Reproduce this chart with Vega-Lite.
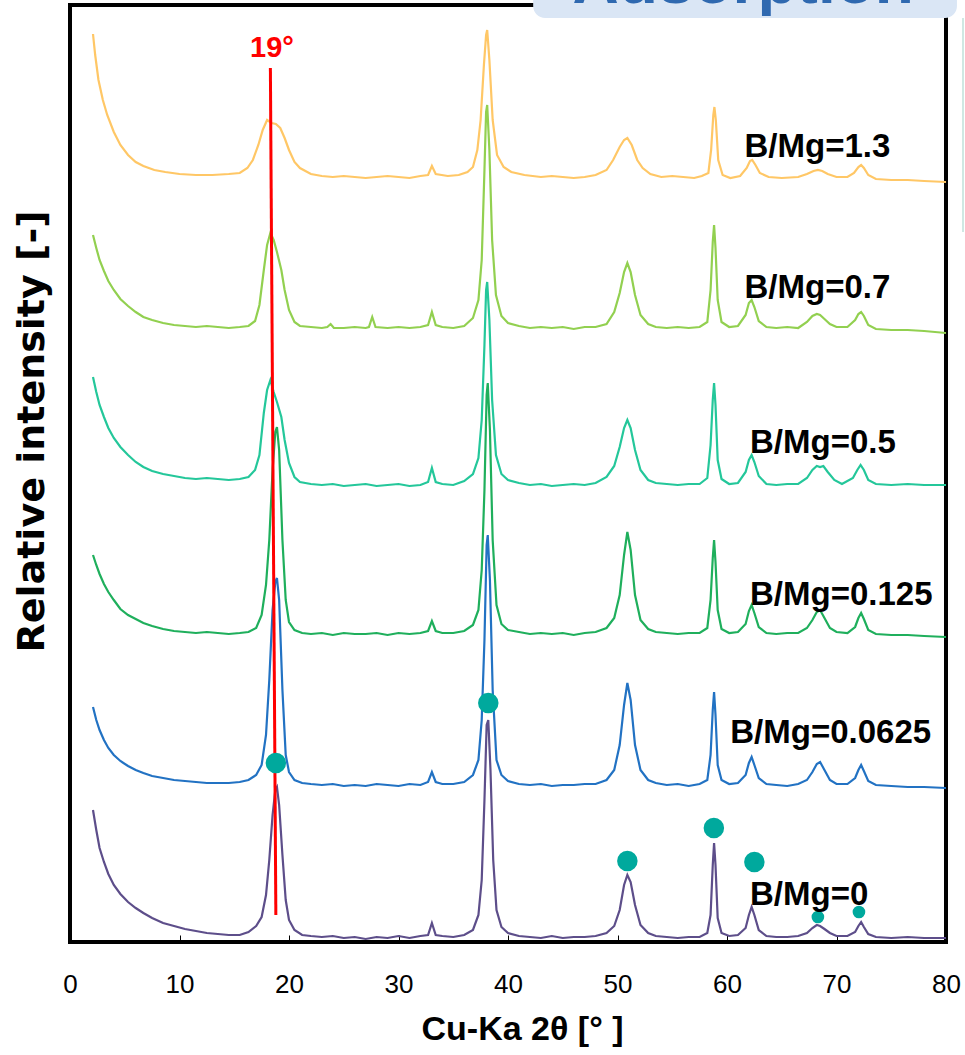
{
"$schema":"https://vega.github.io/schema/vega-lite/v6.json",
"width":876,"height":937,
"autosize":{"type":"none"},
"padding":{"left":70,"top":5,"right":19,"bottom":113},
"background":"white",
"config":{"view":{"stroke":"black","strokeWidth":4},"font":"Liberation Sans"},
"datasets":{
"xrd":[
{"s":"0","t":2.1,"i":132},{"s":"0","t":2.4,"i":112},{"s":"0","t":2.7,"i":94},{"s":"0","t":3.1,"i":80},{"s":"0","t":3.5,"i":68},{"s":"0","t":4.0,"i":57},{"s":"0","t":4.6,"i":48},{"s":"0","t":5.3,"i":40},{"s":"0","t":6.0,"i":34},{"s":"0","t":6.7,"i":29},{"s":"0","t":7.5,"i":24},{"s":"0","t":8.5,"i":19},{"s":"0","t":9.5,"i":16},{"s":"0","t":10.5,"i":13},{"s":"0","t":11.5,"i":11},{"s":"0","t":12.5,"i":9},{"s":"0","t":13.5,"i":8},{"s":"0","t":14.5,"i":7},{"s":"0","t":15.5,"i":7},{"s":"0","t":16.3,"i":10},{"s":"0","t":17.0,"i":16},{"s":"0","t":17.5,"i":25},{"s":"0","t":17.9,"i":47},{"s":"0","t":18.2,"i":82},{"s":"0","t":18.5,"i":127},{"s":"0","t":18.75,"i":152},{"s":"0","t":18.9,"i":155},{"s":"0","t":19.1,"i":137},{"s":"0","t":19.4,"i":87},{"s":"0","t":19.7,"i":42},{"s":"0","t":20.0,"i":22},{"s":"0","t":20.5,"i":12},{"s":"0","t":21.2,"i":7},{"s":"0","t":22,"i":6},{"s":"0","t":23,"i":5},{"s":"0","t":24,"i":6},{"s":"0","t":25,"i":4},{"s":"0","t":26,"i":5},{"s":"0","t":27,"i":3},{"s":"0","t":28,"i":5},{"s":"0","t":29,"i":4},{"s":"0","t":30,"i":6},{"s":"0","t":31,"i":4},{"s":"0","t":32,"i":6},{"s":"0","t":32.7,"i":7},{"s":"0","t":33.05,"i":19},{"s":"0","t":33.4,"i":7},{"s":"0","t":34,"i":6},{"s":"0","t":35,"i":5},{"s":"0","t":36,"i":7},{"s":"0","t":36.8,"i":12},{"s":"0","t":37.3,"i":27},{"s":"0","t":37.6,"i":62},{"s":"0","t":37.85,"i":142},{"s":"0","t":38.05,"i":217},{"s":"0","t":38.2,"i":222},{"s":"0","t":38.4,"i":172},{"s":"0","t":38.65,"i":82},{"s":"0","t":38.95,"i":32},{"s":"0","t":39.4,"i":15},{"s":"0","t":40,"i":9},{"s":"0","t":41,"i":6},{"s":"0","t":42,"i":5},{"s":"0","t":43,"i":4},{"s":"0","t":44,"i":6},{"s":"0","t":45,"i":4},{"s":"0","t":46,"i":5},{"s":"0","t":47,"i":5},{"s":"0","t":48,"i":6},{"s":"0","t":49,"i":9},{"s":"0","t":49.7,"i":16},{"s":"0","t":50.2,"i":32},{"s":"0","t":50.6,"i":57},{"s":"0","t":50.9,"i":67},{"s":"0","t":51.2,"i":60},{"s":"0","t":51.6,"i":37},{"s":"0","t":52.1,"i":17},{"s":"0","t":52.8,"i":9},{"s":"0","t":53.5,"i":6},{"s":"0","t":54.5,"i":5},{"s":"0","t":55.5,"i":4},{"s":"0","t":56.5,"i":5},{"s":"0","t":57.5,"i":5},{"s":"0","t":58.2,"i":9},{"s":"0","t":58.5,"i":27},{"s":"0","t":58.7,"i":77},{"s":"0","t":58.82,"i":99},{"s":"0","t":58.95,"i":77},{"s":"0","t":59.15,"i":24},{"s":"0","t":59.5,"i":9},{"s":"0","t":60.2,"i":6},{"s":"0","t":61.0,"i":7},{"s":"0","t":61.7,"i":14},{"s":"0","t":62.0,"i":27},{"s":"0","t":62.25,"i":35},{"s":"0","t":62.5,"i":27},{"s":"0","t":62.9,"i":12},{"s":"0","t":63.6,"i":6},{"s":"0","t":64.5,"i":5},{"s":"0","t":65.5,"i":5},{"s":"0","t":66.5,"i":6},{"s":"0","t":67.3,"i":9},{"s":"0","t":67.8,"i":14},{"s":"0","t":68.2,"i":17},{"s":"0","t":68.5,"i":16},{"s":"0","t":68.9,"i":13},{"s":"0","t":69.4,"i":9},{"s":"0","t":70.0,"i":6},{"s":"0","t":71.0,"i":6},{"s":"0","t":71.7,"i":10},{"s":"0","t":72.0,"i":16},{"s":"0","t":72.25,"i":20},{"s":"0","t":72.5,"i":15},{"s":"0","t":72.9,"i":8},{"s":"0","t":73.6,"i":5},{"s":"0","t":75,"i":4},{"s":"0","t":76.5,"i":5},{"s":"0","t":78,"i":4},{"s":"0","t":80,"i":4},
{"s":"0.0625","t":2.1,"i":235},{"s":"0.0625","t":2.4,"i":222},{"s":"0.0625","t":2.7,"i":212},{"s":"0.0625","t":3.1,"i":202},{"s":"0.0625","t":3.5,"i":194},{"s":"0.0625","t":4.0,"i":187},{"s":"0.0625","t":4.6,"i":181},{"s":"0.0625","t":5.3,"i":176},{"s":"0.0625","t":6.0,"i":172},{"s":"0.0625","t":6.7,"i":169},{"s":"0.0625","t":7.5,"i":166},{"s":"0.0625","t":8.5,"i":164},{"s":"0.0625","t":9.5,"i":162},{"s":"0.0625","t":10.5,"i":161},{"s":"0.0625","t":11.5,"i":160},{"s":"0.0625","t":12.5,"i":159},{"s":"0.0625","t":13.5,"i":159},{"s":"0.0625","t":14.5,"i":159},{"s":"0.0625","t":15.5,"i":160},{"s":"0.0625","t":16.3,"i":162},{"s":"0.0625","t":17.0,"i":167},{"s":"0.0625","t":17.5,"i":177},{"s":"0.0625","t":17.9,"i":207},{"s":"0.0625","t":18.2,"i":262},{"s":"0.0625","t":18.5,"i":332},{"s":"0.0625","t":18.75,"i":360},{"s":"0.0625","t":18.9,"i":364},{"s":"0.0625","t":19.1,"i":342},{"s":"0.0625","t":19.4,"i":252},{"s":"0.0625","t":19.7,"i":187},{"s":"0.0625","t":20.0,"i":170},{"s":"0.0625","t":20.5,"i":162},{"s":"0.0625","t":21.2,"i":159},{"s":"0.0625","t":22,"i":158},{"s":"0.0625","t":23,"i":157},{"s":"0.0625","t":24,"i":158},{"s":"0.0625","t":25,"i":156},{"s":"0.0625","t":26,"i":157},{"s":"0.0625","t":27,"i":156},{"s":"0.0625","t":28,"i":158},{"s":"0.0625","t":29,"i":157},{"s":"0.0625","t":30,"i":156},{"s":"0.0625","t":31,"i":158},{"s":"0.0625","t":32,"i":157},{"s":"0.0625","t":32.7,"i":160},{"s":"0.0625","t":33.05,"i":170},{"s":"0.0625","t":33.4,"i":160},{"s":"0.0625","t":34,"i":158},{"s":"0.0625","t":35,"i":158},{"s":"0.0625","t":36,"i":160},{"s":"0.0625","t":36.8,"i":167},{"s":"0.0625","t":37.3,"i":182},{"s":"0.0625","t":37.6,"i":222},{"s":"0.0625","t":37.85,"i":302},{"s":"0.0625","t":38.05,"i":397},{"s":"0.0625","t":38.15,"i":407},{"s":"0.0625","t":38.35,"i":362},{"s":"0.0625","t":38.6,"i":252},{"s":"0.0625","t":38.95,"i":182},{"s":"0.0625","t":39.4,"i":167},{"s":"0.0625","t":40,"i":161},{"s":"0.0625","t":41,"i":158},{"s":"0.0625","t":42,"i":157},{"s":"0.0625","t":43,"i":158},{"s":"0.0625","t":44,"i":156},{"s":"0.0625","t":45,"i":157},{"s":"0.0625","t":46,"i":157},{"s":"0.0625","t":47,"i":158},{"s":"0.0625","t":48,"i":158},{"s":"0.0625","t":49,"i":162},{"s":"0.0625","t":49.7,"i":172},{"s":"0.0625","t":50.2,"i":197},{"s":"0.0625","t":50.6,"i":237},{"s":"0.0625","t":50.9,"i":259},{"s":"0.0625","t":51.2,"i":242},{"s":"0.0625","t":51.6,"i":197},{"s":"0.0625","t":52.1,"i":172},{"s":"0.0625","t":52.8,"i":162},{"s":"0.0625","t":53.5,"i":159},{"s":"0.0625","t":54.5,"i":157},{"s":"0.0625","t":55.5,"i":158},{"s":"0.0625","t":56.5,"i":156},{"s":"0.0625","t":57.5,"i":158},{"s":"0.0625","t":58.2,"i":162},{"s":"0.0625","t":58.5,"i":187},{"s":"0.0625","t":58.7,"i":232},{"s":"0.0625","t":58.82,"i":250},{"s":"0.0625","t":58.95,"i":227},{"s":"0.0625","t":59.15,"i":177},{"s":"0.0625","t":59.5,"i":162},{"s":"0.0625","t":60.2,"i":158},{"s":"0.0625","t":61.0,"i":159},{"s":"0.0625","t":61.7,"i":167},{"s":"0.0625","t":62.0,"i":179},{"s":"0.0625","t":62.25,"i":185},{"s":"0.0625","t":62.5,"i":177},{"s":"0.0625","t":62.9,"i":164},{"s":"0.0625","t":63.6,"i":158},{"s":"0.0625","t":64.5,"i":157},{"s":"0.0625","t":65.5,"i":156},{"s":"0.0625","t":66.5,"i":158},{"s":"0.0625","t":67.3,"i":162},{"s":"0.0625","t":67.8,"i":170},{"s":"0.0625","t":68.2,"i":178},{"s":"0.0625","t":68.5,"i":180},{"s":"0.0625","t":68.9,"i":172},{"s":"0.0625","t":69.4,"i":162},{"s":"0.0625","t":70.0,"i":158},{"s":"0.0625","t":71.0,"i":158},{"s":"0.0625","t":71.7,"i":164},{"s":"0.0625","t":72.0,"i":172},{"s":"0.0625","t":72.25,"i":177},{"s":"0.0625","t":72.5,"i":171},{"s":"0.0625","t":72.9,"i":161},{"s":"0.0625","t":73.6,"i":157},{"s":"0.0625","t":75,"i":156},{"s":"0.0625","t":76.5,"i":155},{"s":"0.0625","t":78,"i":155},{"s":"0.0625","t":80,"i":154},
{"s":"0.125","t":2.1,"i":387},{"s":"0.125","t":2.4,"i":377},{"s":"0.125","t":2.7,"i":368},{"s":"0.125","t":3.1,"i":358},{"s":"0.125","t":3.5,"i":350},{"s":"0.125","t":4.0,"i":342},{"s":"0.125","t":4.6,"i":333},{"s":"0.125","t":5.3,"i":327},{"s":"0.125","t":6.0,"i":323},{"s":"0.125","t":6.7,"i":319},{"s":"0.125","t":7.5,"i":316},{"s":"0.125","t":8.5,"i":313},{"s":"0.125","t":9.5,"i":311},{"s":"0.125","t":10.5,"i":310},{"s":"0.125","t":11.5,"i":309},{"s":"0.125","t":12.5,"i":310},{"s":"0.125","t":13.5,"i":309},{"s":"0.125","t":14.5,"i":308},{"s":"0.125","t":15.5,"i":309},{"s":"0.125","t":16.3,"i":310},{"s":"0.125","t":17.0,"i":314},{"s":"0.125","t":17.5,"i":327},{"s":"0.125","t":17.9,"i":357},{"s":"0.125","t":18.2,"i":402},{"s":"0.125","t":18.5,"i":472},{"s":"0.125","t":18.75,"i":510},{"s":"0.125","t":18.9,"i":515},{"s":"0.125","t":19.1,"i":492},{"s":"0.125","t":19.4,"i":402},{"s":"0.125","t":19.7,"i":342},{"s":"0.125","t":20.0,"i":320},{"s":"0.125","t":20.5,"i":312},{"s":"0.125","t":21.2,"i":309},{"s":"0.125","t":22,"i":308},{"s":"0.125","t":23,"i":309},{"s":"0.125","t":24,"i":307},{"s":"0.125","t":25,"i":309},{"s":"0.125","t":26,"i":308},{"s":"0.125","t":27,"i":308},{"s":"0.125","t":28,"i":309},{"s":"0.125","t":29,"i":307},{"s":"0.125","t":30,"i":309},{"s":"0.125","t":31,"i":308},{"s":"0.125","t":32,"i":309},{"s":"0.125","t":32.7,"i":311},{"s":"0.125","t":33.05,"i":321},{"s":"0.125","t":33.4,"i":311},{"s":"0.125","t":34,"i":309},{"s":"0.125","t":35,"i":309},{"s":"0.125","t":36,"i":311},{"s":"0.125","t":36.8,"i":317},{"s":"0.125","t":37.3,"i":332},{"s":"0.125","t":37.6,"i":372},{"s":"0.125","t":37.85,"i":452},{"s":"0.125","t":38.05,"i":547},{"s":"0.125","t":38.15,"i":559},{"s":"0.125","t":38.35,"i":512},{"s":"0.125","t":38.6,"i":402},{"s":"0.125","t":38.95,"i":337},{"s":"0.125","t":39.4,"i":318},{"s":"0.125","t":40,"i":312},{"s":"0.125","t":41,"i":310},{"s":"0.125","t":42,"i":308},{"s":"0.125","t":43,"i":309},{"s":"0.125","t":44,"i":308},{"s":"0.125","t":45,"i":309},{"s":"0.125","t":46,"i":307},{"s":"0.125","t":47,"i":309},{"s":"0.125","t":48,"i":310},{"s":"0.125","t":49,"i":314},{"s":"0.125","t":49.7,"i":324},{"s":"0.125","t":50.2,"i":347},{"s":"0.125","t":50.6,"i":387},{"s":"0.125","t":50.9,"i":410},{"s":"0.125","t":51.2,"i":392},{"s":"0.125","t":51.6,"i":347},{"s":"0.125","t":52.1,"i":322},{"s":"0.125","t":52.8,"i":313},{"s":"0.125","t":53.5,"i":310},{"s":"0.125","t":54.5,"i":309},{"s":"0.125","t":55.5,"i":308},{"s":"0.125","t":56.5,"i":309},{"s":"0.125","t":57.5,"i":309},{"s":"0.125","t":58.2,"i":314},{"s":"0.125","t":58.5,"i":342},{"s":"0.125","t":58.7,"i":384},{"s":"0.125","t":58.82,"i":402},{"s":"0.125","t":58.95,"i":380},{"s":"0.125","t":59.15,"i":332},{"s":"0.125","t":59.5,"i":313},{"s":"0.125","t":60.2,"i":309},{"s":"0.125","t":61.0,"i":310},{"s":"0.125","t":61.7,"i":318},{"s":"0.125","t":62.0,"i":331},{"s":"0.125","t":62.25,"i":337},{"s":"0.125","t":62.5,"i":329},{"s":"0.125","t":62.9,"i":315},{"s":"0.125","t":63.6,"i":309},{"s":"0.125","t":64.5,"i":308},{"s":"0.125","t":65.5,"i":309},{"s":"0.125","t":66.5,"i":309},{"s":"0.125","t":67.3,"i":314},{"s":"0.125","t":67.8,"i":322},{"s":"0.125","t":68.2,"i":330},{"s":"0.125","t":68.5,"i":332},{"s":"0.125","t":68.9,"i":324},{"s":"0.125","t":69.4,"i":314},{"s":"0.125","t":70.0,"i":310},{"s":"0.125","t":71.0,"i":309},{"s":"0.125","t":71.7,"i":315},{"s":"0.125","t":72.0,"i":324},{"s":"0.125","t":72.25,"i":329},{"s":"0.125","t":72.5,"i":323},{"s":"0.125","t":72.9,"i":312},{"s":"0.125","t":73.6,"i":308},{"s":"0.125","t":75,"i":307},{"s":"0.125","t":76.5,"i":307},{"s":"0.125","t":78,"i":306},{"s":"0.125","t":80,"i":305},
{"s":"0.5","t":2.1,"i":565},{"s":"0.5","t":2.4,"i":550},{"s":"0.5","t":2.7,"i":537},{"s":"0.5","t":3.1,"i":525},{"s":"0.5","t":3.5,"i":514},{"s":"0.5","t":4.0,"i":504},{"s":"0.5","t":4.6,"i":495},{"s":"0.5","t":5.3,"i":487},{"s":"0.5","t":6.0,"i":480},{"s":"0.5","t":6.7,"i":475},{"s":"0.5","t":7.5,"i":471},{"s":"0.5","t":8.5,"i":468},{"s":"0.5","t":9.5,"i":466},{"s":"0.5","t":10.5,"i":464},{"s":"0.5","t":11.5,"i":463},{"s":"0.5","t":12.5,"i":464},{"s":"0.5","t":13.5,"i":463},{"s":"0.5","t":14.5,"i":462},{"s":"0.5","t":15.5,"i":463},{"s":"0.5","t":16.3,"i":465},{"s":"0.5","t":16.9,"i":472},{"s":"0.5","t":17.3,"i":487},{"s":"0.5","t":17.7,"i":529},{"s":"0.5","t":18.0,"i":552},{"s":"0.5","t":18.3,"i":562},{"s":"0.5","t":18.6,"i":550},{"s":"0.5","t":18.9,"i":540},{"s":"0.5","t":19.3,"i":525},{"s":"0.5","t":19.6,"i":502},{"s":"0.5","t":20.0,"i":479},{"s":"0.5","t":20.5,"i":465},{"s":"0.5","t":21.0,"i":460},{"s":"0.5","t":22,"i":458},{"s":"0.5","t":23,"i":457},{"s":"0.5","t":24,"i":458},{"s":"0.5","t":25,"i":456},{"s":"0.5","t":26,"i":457},{"s":"0.5","t":27,"i":458},{"s":"0.5","t":28,"i":456},{"s":"0.5","t":29,"i":457},{"s":"0.5","t":30,"i":458},{"s":"0.5","t":31,"i":456},{"s":"0.5","t":32,"i":457},{"s":"0.5","t":32.7,"i":460},{"s":"0.5","t":33.05,"i":474},{"s":"0.5","t":33.4,"i":460},{"s":"0.5","t":34,"i":458},{"s":"0.5","t":35,"i":457},{"s":"0.5","t":36,"i":461},{"s":"0.5","t":36.8,"i":468},{"s":"0.5","t":37.3,"i":484},{"s":"0.5","t":37.6,"i":522},{"s":"0.5","t":37.85,"i":597},{"s":"0.5","t":38.0,"i":652},{"s":"0.5","t":38.1,"i":660},{"s":"0.5","t":38.3,"i":622},{"s":"0.5","t":38.55,"i":542},{"s":"0.5","t":38.9,"i":487},{"s":"0.5","t":39.4,"i":468},{"s":"0.5","t":40,"i":462},{"s":"0.5","t":41,"i":459},{"s":"0.5","t":42,"i":457},{"s":"0.5","t":43,"i":458},{"s":"0.5","t":44,"i":456},{"s":"0.5","t":45,"i":457},{"s":"0.5","t":46,"i":458},{"s":"0.5","t":47,"i":457},{"s":"0.5","t":48,"i":459},{"s":"0.5","t":49,"i":465},{"s":"0.5","t":49.7,"i":476},{"s":"0.5","t":50.2,"i":495},{"s":"0.5","t":50.6,"i":514},{"s":"0.5","t":50.9,"i":522},{"s":"0.5","t":51.2,"i":514},{"s":"0.5","t":51.6,"i":492},{"s":"0.5","t":52.1,"i":472},{"s":"0.5","t":52.8,"i":462},{"s":"0.5","t":53.5,"i":459},{"s":"0.5","t":54.5,"i":458},{"s":"0.5","t":55.5,"i":457},{"s":"0.5","t":56.5,"i":458},{"s":"0.5","t":57.5,"i":458},{"s":"0.5","t":58.2,"i":464},{"s":"0.5","t":58.5,"i":497},{"s":"0.5","t":58.7,"i":542},{"s":"0.5","t":58.82,"i":559},{"s":"0.5","t":58.95,"i":537},{"s":"0.5","t":59.15,"i":482},{"s":"0.5","t":59.5,"i":463},{"s":"0.5","t":60.2,"i":458},{"s":"0.5","t":61.0,"i":459},{"s":"0.5","t":61.7,"i":470},{"s":"0.5","t":62.0,"i":482},{"s":"0.5","t":62.25,"i":487},{"s":"0.5","t":62.5,"i":480},{"s":"0.5","t":62.9,"i":466},{"s":"0.5","t":63.6,"i":458},{"s":"0.5","t":64.5,"i":457},{"s":"0.5","t":65.5,"i":458},{"s":"0.5","t":66.5,"i":458},{"s":"0.5","t":67.3,"i":464},{"s":"0.5","t":67.8,"i":472},{"s":"0.5","t":68.2,"i":476},{"s":"0.5","t":68.5,"i":475},{"s":"0.5","t":68.8,"i":476},{"s":"0.5","t":69.2,"i":470},{"s":"0.5","t":69.8,"i":462},{"s":"0.5","t":70.5,"i":458},{"s":"0.5","t":71.5,"i":464},{"s":"0.5","t":71.9,"i":472},{"s":"0.5","t":72.2,"i":477},{"s":"0.5","t":72.5,"i":472},{"s":"0.5","t":72.9,"i":462},{"s":"0.5","t":73.6,"i":458},{"s":"0.5","t":75,"i":457},{"s":"0.5","t":76.5,"i":458},{"s":"0.5","t":78,"i":457},{"s":"0.5","t":80,"i":457},
{"s":"0.7","t":2.1,"i":707},{"s":"0.7","t":2.4,"i":694},{"s":"0.7","t":2.7,"i":682},{"s":"0.7","t":3.1,"i":671},{"s":"0.7","t":3.5,"i":661},{"s":"0.7","t":4.0,"i":652},{"s":"0.7","t":4.6,"i":643},{"s":"0.7","t":5.3,"i":636},{"s":"0.7","t":6.0,"i":630},{"s":"0.7","t":6.7,"i":625},{"s":"0.7","t":7.5,"i":622},{"s":"0.7","t":8.5,"i":619},{"s":"0.7","t":9.5,"i":617},{"s":"0.7","t":10.5,"i":616},{"s":"0.7","t":11.5,"i":615},{"s":"0.7","t":12.5,"i":616},{"s":"0.7","t":13.5,"i":615},{"s":"0.7","t":14.5,"i":614},{"s":"0.7","t":15.5,"i":615},{"s":"0.7","t":16.3,"i":616},{"s":"0.7","t":16.9,"i":621},{"s":"0.7","t":17.3,"i":637},{"s":"0.7","t":17.7,"i":672},{"s":"0.7","t":18.0,"i":697},{"s":"0.7","t":18.3,"i":709},{"s":"0.7","t":18.6,"i":702},{"s":"0.7","t":18.9,"i":690},{"s":"0.7","t":19.3,"i":672},{"s":"0.7","t":19.6,"i":652},{"s":"0.7","t":20.0,"i":632},{"s":"0.7","t":20.5,"i":620},{"s":"0.7","t":21.0,"i":616},{"s":"0.7","t":22,"i":615},{"s":"0.7","t":23,"i":614},{"s":"0.7","t":23.5,"i":615},{"s":"0.7","t":23.8,"i":618},{"s":"0.7","t":24.1,"i":614},{"s":"0.7","t":25,"i":614},{"s":"0.7","t":26,"i":615},{"s":"0.7","t":27,"i":614},{"s":"0.7","t":27.3,"i":615},{"s":"0.7","t":27.6,"i":625},{"s":"0.7","t":27.9,"i":615},{"s":"0.7","t":29,"i":614},{"s":"0.7","t":30,"i":615},{"s":"0.7","t":31,"i":614},{"s":"0.7","t":32,"i":615},{"s":"0.7","t":32.7,"i":617},{"s":"0.7","t":33.05,"i":630},{"s":"0.7","t":33.4,"i":617},{"s":"0.7","t":34,"i":615},{"s":"0.7","t":35,"i":614},{"s":"0.7","t":36,"i":616},{"s":"0.7","t":36.8,"i":624},{"s":"0.7","t":37.3,"i":642},{"s":"0.7","t":37.6,"i":682},{"s":"0.7","t":37.85,"i":772},{"s":"0.7","t":38.0,"i":830},{"s":"0.7","t":38.1,"i":837},{"s":"0.7","t":38.3,"i":792},{"s":"0.7","t":38.55,"i":702},{"s":"0.7","t":38.9,"i":647},{"s":"0.7","t":39.4,"i":626},{"s":"0.7","t":40,"i":619},{"s":"0.7","t":41,"i":616},{"s":"0.7","t":42,"i":614},{"s":"0.7","t":43,"i":615},{"s":"0.7","t":44,"i":614},{"s":"0.7","t":45,"i":615},{"s":"0.7","t":46,"i":613},{"s":"0.7","t":47,"i":615},{"s":"0.7","t":48,"i":615},{"s":"0.7","t":49,"i":618},{"s":"0.7","t":49.7,"i":630},{"s":"0.7","t":50.2,"i":649},{"s":"0.7","t":50.6,"i":670},{"s":"0.7","t":50.9,"i":679},{"s":"0.7","t":51.2,"i":670},{"s":"0.7","t":51.6,"i":647},{"s":"0.7","t":52.1,"i":627},{"s":"0.7","t":52.8,"i":618},{"s":"0.7","t":53.5,"i":615},{"s":"0.7","t":54.5,"i":614},{"s":"0.7","t":55.5,"i":615},{"s":"0.7","t":56.5,"i":614},{"s":"0.7","t":57.5,"i":615},{"s":"0.7","t":58.2,"i":620},{"s":"0.7","t":58.5,"i":652},{"s":"0.7","t":58.7,"i":700},{"s":"0.7","t":58.82,"i":717},{"s":"0.7","t":58.95,"i":694},{"s":"0.7","t":59.15,"i":642},{"s":"0.7","t":59.5,"i":620},{"s":"0.7","t":60.2,"i":615},{"s":"0.7","t":61.0,"i":616},{"s":"0.7","t":61.7,"i":627},{"s":"0.7","t":62.0,"i":639},{"s":"0.7","t":62.25,"i":642},{"s":"0.7","t":62.5,"i":635},{"s":"0.7","t":62.9,"i":621},{"s":"0.7","t":63.6,"i":615},{"s":"0.7","t":64.5,"i":614},{"s":"0.7","t":65.5,"i":615},{"s":"0.7","t":66.5,"i":614},{"s":"0.7","t":67.3,"i":620},{"s":"0.7","t":67.8,"i":626},{"s":"0.7","t":68.2,"i":628},{"s":"0.7","t":68.5,"i":627},{"s":"0.7","t":68.9,"i":623},{"s":"0.7","t":69.4,"i":618},{"s":"0.7","t":70.0,"i":615},{"s":"0.7","t":71.0,"i":615},{"s":"0.7","t":71.7,"i":622},{"s":"0.7","t":72.0,"i":628},{"s":"0.7","t":72.25,"i":630},{"s":"0.7","t":72.5,"i":626},{"s":"0.7","t":72.9,"i":617},{"s":"0.7","t":73.6,"i":613},{"s":"0.7","t":75,"i":612},{"s":"0.7","t":76.5,"i":612},{"s":"0.7","t":78,"i":611},{"s":"0.7","t":80,"i":609},
{"s":"1.3","t":2.1,"i":908},{"s":"1.3","t":2.3,"i":887},{"s":"1.3","t":2.6,"i":862},{"s":"1.3","t":3.0,"i":842},{"s":"1.3","t":3.4,"i":827},{"s":"1.3","t":4.0,"i":810},{"s":"1.3","t":4.6,"i":797},{"s":"1.3","t":5.3,"i":787},{"s":"1.3","t":6.0,"i":780},{"s":"1.3","t":6.7,"i":776},{"s":"1.3","t":7.7,"i":772},{"s":"1.3","t":8.7,"i":770},{"s":"1.3","t":10,"i":768},{"s":"1.3","t":11.5,"i":767},{"s":"1.3","t":13,"i":767},{"s":"1.3","t":14.5,"i":768},{"s":"1.3","t":15.5,"i":769},{"s":"1.3","t":16.2,"i":774},{"s":"1.3","t":16.7,"i":782},{"s":"1.3","t":17.2,"i":797},{"s":"1.3","t":17.6,"i":812},{"s":"1.3","t":18.0,"i":822},{"s":"1.3","t":18.4,"i":819},{"s":"1.3","t":18.8,"i":818},{"s":"1.3","t":19.2,"i":814},{"s":"1.3","t":19.6,"i":804},{"s":"1.3","t":20.0,"i":792},{"s":"1.3","t":20.5,"i":780},{"s":"1.3","t":21.0,"i":774},{"s":"1.3","t":22,"i":768},{"s":"1.3","t":23,"i":766},{"s":"1.3","t":24,"i":765},{"s":"1.3","t":25,"i":766},{"s":"1.3","t":26,"i":765},{"s":"1.3","t":27,"i":764},{"s":"1.3","t":28,"i":765},{"s":"1.3","t":29,"i":766},{"s":"1.3","t":30,"i":765},{"s":"1.3","t":31,"i":764},{"s":"1.3","t":32,"i":766},{"s":"1.3","t":32.7,"i":767},{"s":"1.3","t":33.05,"i":776},{"s":"1.3","t":33.4,"i":768},{"s":"1.3","t":34.5,"i":766},{"s":"1.3","t":35.5,"i":767},{"s":"1.3","t":36.3,"i":770},{"s":"1.3","t":36.8,"i":775},{"s":"1.3","t":37.2,"i":792},{"s":"1.3","t":37.5,"i":822},{"s":"1.3","t":37.8,"i":877},{"s":"1.3","t":38.0,"i":907},{"s":"1.3","t":38.1,"i":912},{"s":"1.3","t":38.3,"i":882},{"s":"1.3","t":38.6,"i":822},{"s":"1.3","t":39.0,"i":787},{"s":"1.3","t":39.6,"i":775},{"s":"1.3","t":40.3,"i":770},{"s":"1.3","t":41.5,"i":767},{"s":"1.3","t":43,"i":765},{"s":"1.3","t":44,"i":766},{"s":"1.3","t":45,"i":765},{"s":"1.3","t":46,"i":764},{"s":"1.3","t":47,"i":765},{"s":"1.3","t":48,"i":767},{"s":"1.3","t":49,"i":772},{"s":"1.3","t":49.6,"i":782},{"s":"1.3","t":50.2,"i":795},{"s":"1.3","t":50.6,"i":802},{"s":"1.3","t":50.9,"i":804},{"s":"1.3","t":51.3,"i":797},{"s":"1.3","t":51.8,"i":782},{"s":"1.3","t":52.3,"i":774},{"s":"1.3","t":53,"i":768},{"s":"1.3","t":54,"i":765},{"s":"1.3","t":55,"i":766},{"s":"1.3","t":56,"i":765},{"s":"1.3","t":57,"i":764},{"s":"1.3","t":57.7,"i":766},{"s":"1.3","t":58.3,"i":769},{"s":"1.3","t":58.55,"i":792},{"s":"1.3","t":58.75,"i":827},{"s":"1.3","t":58.85,"i":835},{"s":"1.3","t":58.98,"i":822},{"s":"1.3","t":59.2,"i":782},{"s":"1.3","t":59.6,"i":767},{"s":"1.3","t":60.3,"i":764},{"s":"1.3","t":61.2,"i":766},{"s":"1.3","t":61.8,"i":774},{"s":"1.3","t":62.1,"i":781},{"s":"1.3","t":62.3,"i":782},{"s":"1.3","t":62.6,"i":777},{"s":"1.3","t":63.0,"i":769},{"s":"1.3","t":63.8,"i":765},{"s":"1.3","t":65,"i":764},{"s":"1.3","t":66.5,"i":765},{"s":"1.3","t":67.3,"i":768},{"s":"1.3","t":67.9,"i":771},{"s":"1.3","t":68.3,"i":772},{"s":"1.3","t":68.7,"i":771},{"s":"1.3","t":69.2,"i":768},{"s":"1.3","t":70.0,"i":765},{"s":"1.3","t":71.0,"i":765},{"s":"1.3","t":71.6,"i":769},{"s":"1.3","t":72.0,"i":775},{"s":"1.3","t":72.25,"i":777},{"s":"1.3","t":72.5,"i":774},{"s":"1.3","t":72.9,"i":767},{"s":"1.3","t":73.6,"i":763},{"s":"1.3","t":75,"i":762},{"s":"1.3","t":76.5,"i":762},{"s":"1.3","t":78,"i":761},{"s":"1.3","t":80,"i":760}
],
"dots":[
{"t":18.8,"i":179,"k":"major"},{"t":38.2,"i":239,"k":"major"},{"t":50.9,"i":81,"k":"major"},{"t":58.8,"i":114,"k":"major"},{"t":62.5,"i":80,"k":"major"},{"t":68.3,"i":25,"k":"minor"},{"t":72.05,"i":30,"k":"minor"}
],
"labels":[
{"t":61.6,"i":795,"txt":"B/Mg=1.3"},{"t":61.6,"i":654,"txt":"B/Mg=0.7"},{"t":62.1,"i":499,"txt":"B/Mg=0.5"},{"t":62.1,"i":347,"txt":"B/Mg=0.125"},{"t":60.3,"i":209,"txt":"B/Mg=0.0625"},{"t":62.1,"i":47,"txt":"B/Mg=0"}
]
},
"layer":[
{"data":{"values":[{"t1":42.3,"t2":81.0,"i1":924,"i2":980}]},
 "mark":{"type":"rect","color":"#DAE6F5","cornerRadius":12,"clip":false},
 "encoding":{"x":{"field":"t1","type":"quantitative","scale":{"domain":[0,80],"nice":false}},"x2":{"field":"t2"},"y":{"field":"i1","type":"quantitative","scale":{"domain":[0,937],"nice":false,"zero":false}},"y2":{"field":"i2"}}},
{"data":{"values":[{"t":45.9,"i":939,"txt":"Adsorption"}]},
 "mark":{"type":"text","align":"left","baseline":"alphabetic","fontSize":64,"fontWeight":"bold","color":"#2F69B0","clip":false},
 "encoding":{"x":{"field":"t","type":"quantitative","scale":{"domain":[0,80],"nice":false}},"y":{"field":"i","type":"quantitative","scale":{"domain":[0,937],"nice":false,"zero":false}},"text":{"field":"txt"}}},
{"data":{"values":[{"t":81.55,"i1":924,"i2":710}]},
 "mark":{"type":"rule","color":"#CFE8E3","strokeWidth":2,"clip":false},
 "encoding":{"x":{"field":"t","type":"quantitative","scale":{"domain":[0,80],"nice":false}},"y":{"field":"i1","type":"quantitative","scale":{"domain":[0,937],"nice":false,"zero":false}},"y2":{"field":"i2"}}},
{"data":{"name":"xrd"},
 "mark":{"type":"line","strokeWidth":2.2,"clip":true},
 "encoding":{
  "x":{"field":"t","type":"quantitative","scale":{"domain":[0,80],"nice":false},
       "axis":{"values":[0,10,20,30,40,50,60,70,80],"domain":false,"grid":false,"tickSize":-7,"tickColor":"black","tickWidth":1,"labelFlush":false,"labelOverlap":false,
               "labelFontSize":26,"labelFont":"Liberation Sans","labelColor":"black","labelPadding":36,
               "title":"Cu-Ka 2θ [° ]","titleFont":"Liberation Sans","titleFontSize":34,"titleFontWeight":"bold","titleColor":"black","titlePadding":15,"titleX":452}},
  "y":{"field":"i","type":"quantitative","scale":{"domain":[0,937],"nice":false,"zero":false},
       "axis":{"labels":false,"ticks":false,"domain":false,"grid":false,
               "title":"Relative intensity [-]","titleFont":"DejaVu Sans","titleFontSize":38,"titleFontWeight":"bold","titleColor":"black","titlePadding":19,"titleY":426}},
  "color":{"field":"s","type":"nominal","legend":null,
           "scale":{"domain":["0","0.0625","0.125","0.5","0.7","1.3"],"range":["#5D4E8A","#2272C3","#1FAF5C","#24C79A","#92D050","#FFC766"]}}
 }},
{"data":{"values":[{"t1":18.3,"i1":874,"t2":18.8,"i2":27}]},
 "mark":{"type":"rule","color":"#FF0000","strokeWidth":3},
 "encoding":{"x":{"field":"t1","type":"quantitative","scale":{"domain":[0,80],"nice":false}},"y":{"field":"i1","type":"quantitative","scale":{"domain":[0,937],"nice":false,"zero":false}},"x2":{"field":"t2"},"y2":{"field":"i2"}}},
{"data":{"name":"dots"},
 "mark":{"type":"point","filled":true,"opacity":1,"color":"#00A99D"},
 "encoding":{"x":{"field":"t","type":"quantitative","scale":{"domain":[0,80],"nice":false}},"y":{"field":"i","type":"quantitative","scale":{"domain":[0,937],"nice":false,"zero":false}},
  "size":{"field":"k","type":"nominal","legend":null,"scale":{"domain":["major","minor"],"range":[420,160]}}}},
{"data":{"name":"labels"},
 "mark":{"type":"text","align":"left","baseline":"middle","font":"Liberation Sans","fontSize":33,"fontWeight":"bold","color":"black"},
 "encoding":{"x":{"field":"t","type":"quantitative","scale":{"domain":[0,80],"nice":false}},"y":{"field":"i","type":"quantitative","scale":{"domain":[0,937],"nice":false,"zero":false}},"text":{"field":"txt"}}},
{"data":{"values":[{"t":18.45,"i":894,"txt":"19°"}]},
 "mark":{"type":"text","align":"center","baseline":"middle","font":"Liberation Sans","fontSize":29,"fontWeight":"bold","color":"#FF0000"},
 "encoding":{"x":{"field":"t","type":"quantitative","scale":{"domain":[0,80],"nice":false}},"y":{"field":"i","type":"quantitative","scale":{"domain":[0,937],"nice":false,"zero":false}},"text":{"field":"txt"}}}
]
}
